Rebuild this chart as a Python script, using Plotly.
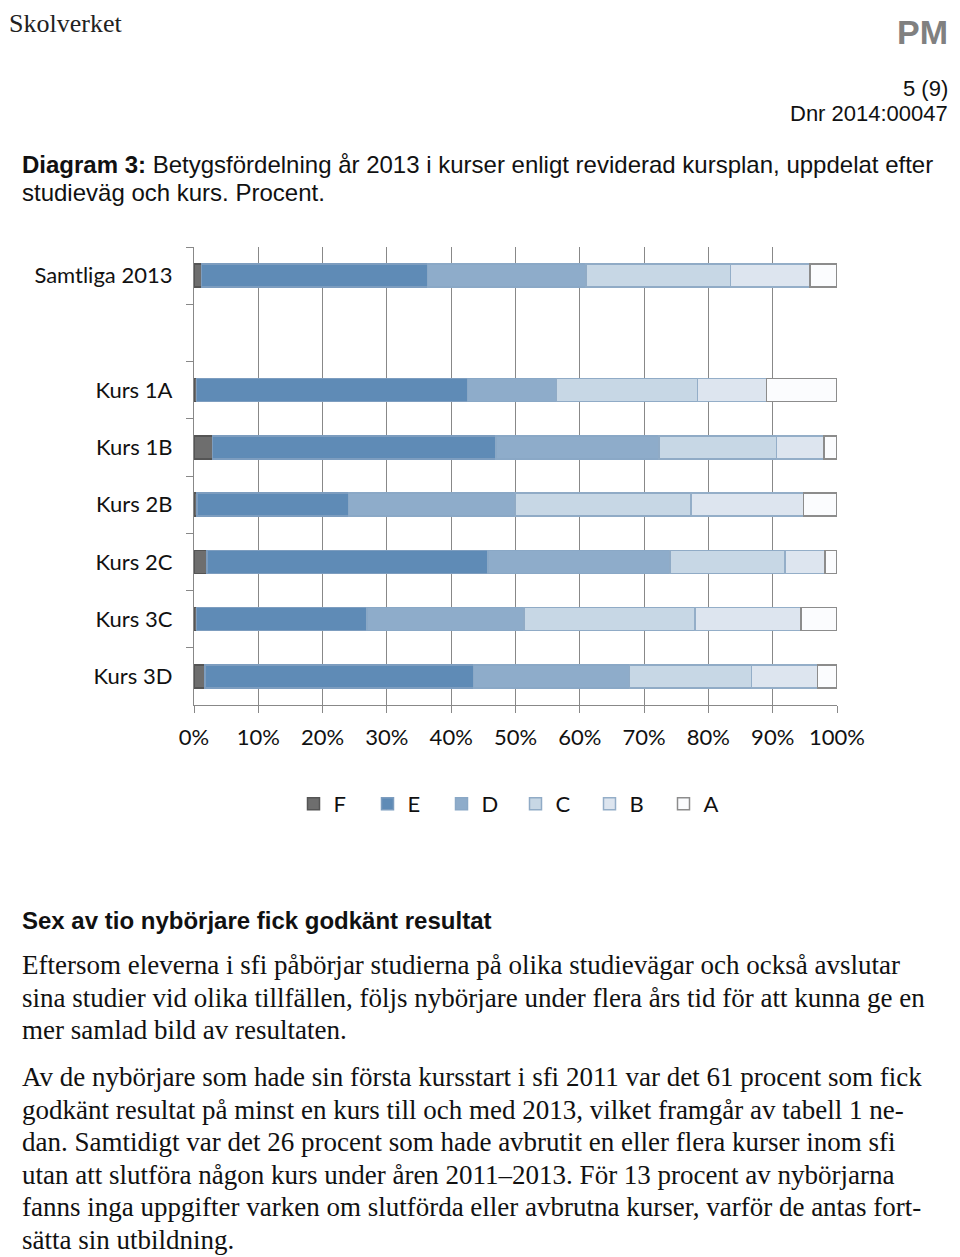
import plotly.graph_objects as go

# ---- data ----
categories = ["Samtliga 2013", "Kurs 1A", "Kurs 1B", "Kurs 2B", "Kurs 2C", "Kurs 3C", "Kurs 3D"]
axis_order = ["Samtliga 2013", " ", "Kurs 1A", "Kurs 1B", "Kurs 2B", "Kurs 2C", "Kurs 3C", "Kurs 3D"]
grade_names = ["F", "E", "D", "C", "B", "A"]
grade_F = [1.2, 0.4, 2.9, 0.5, 2.0, 0.4, 1.7]
grade_E = [35.1, 42.1, 44.1, 23.5, 43.7, 26.5, 41.8]
grade_D = [24.7, 13.9, 25.3, 25.9, 28.3, 24.4, 24.2]
grade_C = [22.4, 21.9, 18.3, 27.4, 17.9, 26.6, 19.0]
grade_B = [12.4, 10.7, 7.4, 17.5, 6.2, 16.5, 10.3]
grade_A = [4.2, 11.0, 2.0, 5.2, 1.9, 5.6, 3.0]
x_tick_values = [0, 10, 20, 30, 40, 50, 60, 70, 80, 90, 100]
x_tick_labels = ["0%", "10%", "20%", "30%", "40%", "50%", "60%", "70%", "80%", "90%", "100%"]

# ---- styles ----
fills = ["#6e6e6e", "#5f8bb6", "#8eacca", "#c7d7e5", "#dde5ef", "#fbfcfe"]
edges = ["#555555", "#7d9dbf", "#8aa8c6", "#90abc6", "#94aec8", "#8c8c8c"]
series = [grade_F, grade_E, grade_D, grade_C, grade_B, grade_A]

# the page has an 8px body margin, so the figure is 8px smaller than the window
OFF = 8
W, H = 960 - OFF, 1257 - OFF
# plot area in reference (window) pixels
L, R, T, B = 194, 837, 247, 705


def px(x):
    return (x - L) / (R - L)


def py(y):
    return (B - y) / (B - T)


fig = go.Figure()
for name, vals, fc, ec in zip(grade_names, series, fills, edges):
    fig.add_trace(go.Bar(
        y=categories, x=vals, name=name, orientation="h",
        marker=dict(color=fc, line=dict(color=ec, width=1.5)),
        hoverinfo="skip",
    ))

chart_font = "Lato, 'Open Sans', sans-serif"
fig.update_layout(
    width=W, height=H,
    margin=dict(l=L - OFF, r=W - (R - OFF), t=T - OFF, b=H - (B - OFF)),
    paper_bgcolor="white", plot_bgcolor="white",
    barmode="stack", bargap=0.6,
    showlegend=True,
    legend=dict(orientation="h", x=0.5, xanchor="center", y=py(804), yanchor="middle",
                font=dict(family=chart_font, size=22, color="#111"),
                entrywidth=29, entrywidthmode="pixels", itemwidth=30,
                traceorder="normal", bgcolor="rgba(0,0,0,0)"),
    font=dict(family=chart_font, size=22, color="#111"),
)
fig.update_xaxes(
    range=[0, 100], tickmode="array", tickvals=x_tick_values, ticktext=x_tick_labels,
    showgrid=True, gridcolor="#888888", gridwidth=1.3,
    showline=True, linecolor="#888888", linewidth=1.3,
    ticks="outside", ticklen=7, tickcolor="#888888", tickwidth=1.3,
    ticklabelstandoff=5, zeroline=False,
    tickfont=dict(family=chart_font, size=22, color="#111"),
)
fig.update_yaxes(
    type="category", categoryorder="array", categoryarray=axis_order,
    range=[len(axis_order) - 0.5, -0.5],
    tickson="boundaries", ticks="outside", ticklen=7, tickcolor="#888888", tickwidth=1.3,
    showline=True, linecolor="#888888", linewidth=1.3, showgrid=False,
    ticklabelstandoff=16,
    tickfont=dict(family=chart_font, size=22, color="#111"),
)

serif = "'Liberation Serif', 'DejaVu Serif', serif"
sans = "'Liberation Sans', Arial, sans-serif"


def note(text, x, y, size, family, color="#111", anchor="left", yanchor="middle"):
    fig.add_annotation(text=text, x=px(x), y=py(y), xref="paper", yref="paper",
                       xanchor=anchor, yanchor=yanchor, showarrow=False,
                       font=dict(family=family, size=size, color=color), borderpad=0)


# header
note("Skolverket", OFF, OFF, 26, serif, "#222", yanchor="top")
note("<b>PM</b>", 949, 32, 34, sans, "#808080", anchor="right")
note("5 (9)", 949, 88, 22, sans, "#111", anchor="right")
note("Dnr 2014:00047", 949, 113, 22, sans, "#111", anchor="right")
note("<b>Diagram 3:</b> Betygsfördelning år 2013 i kurser enligt reviderad kursplan, uppdelat efter",
     21, 165, 24, sans)
note("studieväg och kurs. Procent.", 21, 192, 24, sans)

# text below the chart
note("<b>Sex av tio nybörjare fick godkänt resultat</b>", 21, 920, 24, sans)
body1 = [
    "Eftersom eleverna i sfi påbörjar studierna på olika studievägar och också avslutar",
    "sina studier vid olika tillfällen, följs nybörjare under flera års tid för att kunna ge en",
    "mer samlad bild av resultaten.",
]
for i, line in enumerate(body1):
    note(line, 21, 965 + i * 32.6, 27, serif)
body2 = [
    "Av de nybörjare som hade sin första kursstart i sfi 2011 var det 61 procent som fick",
    "godkänt resultat på minst en kurs till och med 2013, vilket framgår av tabell 1 ne-",
    "dan. Samtidigt var det 26 procent som hade avbrutit en eller flera kurser inom sfi",
    "utan att slutföra någon kurs under åren 2011–2013. För 13 procent av nybörjarna",
    "fanns inga uppgifter varken om slutförda eller avbrutna kurser, varför de antas fort-",
    "sätta sin utbildning.",
]
for i, line in enumerate(body2):
    note(line, 21, 1077 + i * 32.6, 27, serif)

fig.write_html("out.html")
